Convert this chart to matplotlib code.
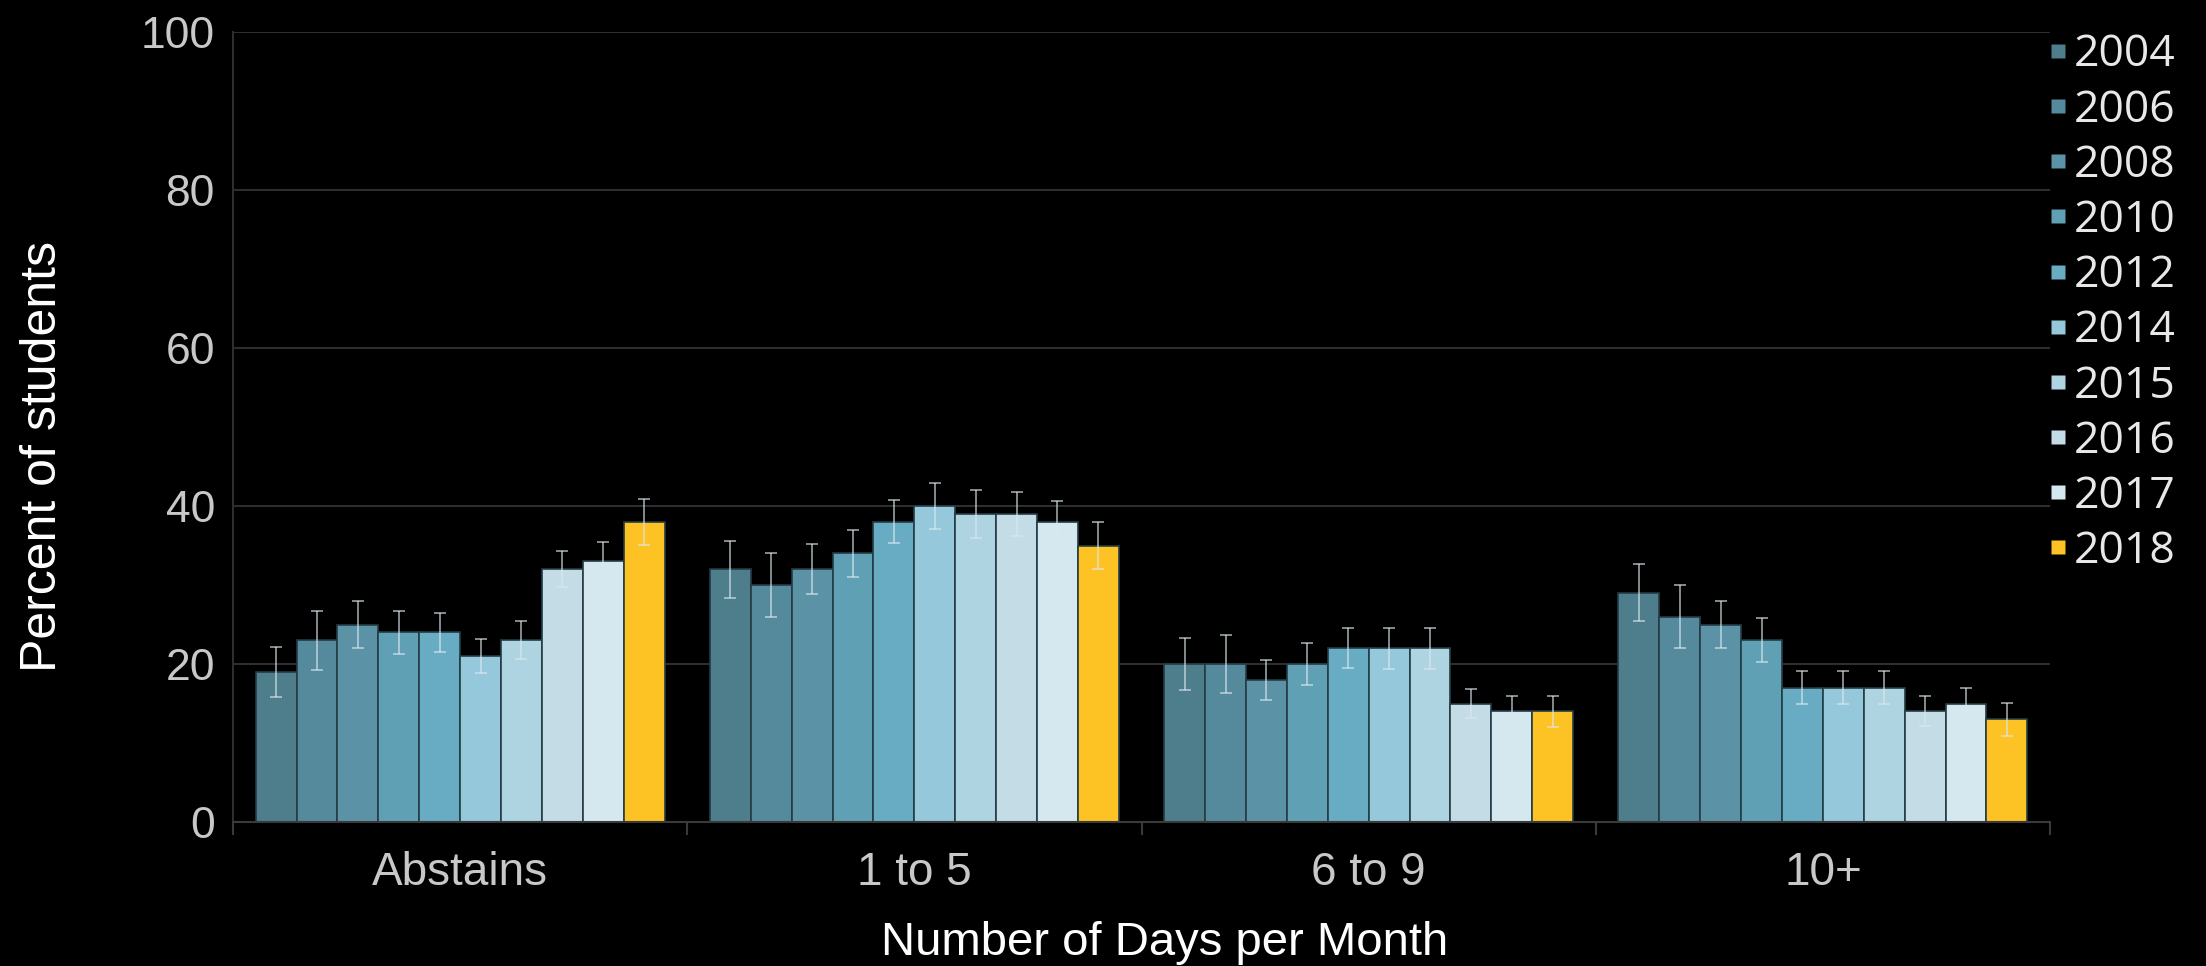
import matplotlib.pyplot as plt
from matplotlib.lines import Line2D
import numpy as np

plt.rcParams.update({
    "font.family": "Liberation Sans",
    "axes.linewidth": 1.5,
})

categories = ["Abstains", "1 to 5", "6 to 9", "10+"]
years = ["2004", "2006", "2008", "2010", "2012", "2014", "2015", "2016", "2017", "2018"]

# percent of students, one list per year (Abstains, 1-5, 6-9, 10+)
pct = {
    "2004": [19, 32, 20, 29],
    "2006": [23, 30, 20, 26],
    "2008": [25, 32, 18, 25],
    "2010": [24, 34, 20, 23],
    "2012": [24, 38, 22, 17],
    "2014": [21, 40, 22, 17],
    "2015": [23, 39, 22, 17],
    "2016": [32, 39, 15, 14],
    "2017": [33, 38, 14, 15],
    "2018": [38, 35, 14, 13],
}
err = {
    "2004": [3.2, 3.6, 3.3, 3.6],
    "2006": [3.7, 4.0, 3.7, 4.0],
    "2008": [3.0, 3.2, 2.5, 3.0],
    "2010": [2.7, 3.0, 2.7, 2.8],
    "2012": [2.5, 2.7, 2.5, 2.1],
    "2014": [2.2, 2.9, 2.6, 2.1],
    "2015": [2.4, 3.0, 2.6, 2.1],
    "2016": [2.3, 2.8, 1.8, 1.9],
    "2017": [2.5, 2.6, 2.0, 2.0],
    "2018": [2.9, 3.0, 2.0, 2.1],
}
colors = ["#4e7d8c", "#548a9c", "#5b92a5", "#5fa0b5", "#68acc4",
          "#94c8da", "#aed4e2", "#c3dce6", "#d5e8f0", "#fdc325"]

grid_col = "#2e2e2e"
tick_col = "#c8c8c8"

fig = plt.figure(figsize=(22.06, 9.66), dpi=100, facecolor="black")
ax = fig.add_axes([233 / 2206, 1 - 822 / 966, 1817 / 2206, 790 / 966])
ax.set_facecolor("black")

x = np.arange(len(categories))
w = 0.09
for j, yr in enumerate(years):
    pos = x + (j - 4.5) * w
    ax.bar(pos, pct[yr], width=w, color=colors[j], edgecolor="#243c45",
           linewidth=1.2, zorder=2)
    ax.errorbar(pos, pct[yr], yerr=err[yr], fmt="none", ecolor="#dbe8ee",
                elinewidth=1.2, capsize=4, capthick=1.2, alpha=0.7, zorder=3)

ax.set_xlim(-0.5, 3.5)
ax.set_ylim(0, 100)
ax.set_yticks(range(0, 101, 20))
ax.yaxis.grid(True, color=grid_col, linewidth=1.5, zorder=0)
ax.set_axisbelow(True)

for s in ["top", "right"]:
    ax.spines[s].set_visible(False)
ax.spines["left"].set_color(grid_col)
ax.spines["bottom"].set_color("#3a3a3a")

ax.set_xticks(x)
ax.set_xticklabels(categories)
ax.set_xticks(np.arange(-0.5, 4.0, 1.0), minor=True)
ax.tick_params(axis="x", which="major", length=0, pad=21, labelsize=33, labelcolor=tick_col)
ax.tick_params(axis="x", which="minor", length=9, width=1.5, color="#3a3a3a")
ax.tick_params(axis="y", length=0, pad=13, labelsize=32, labelcolor=tick_col)

ax.set_xlabel("Number of Days per Month", fontsize=34, color="white")
ax.set_ylabel("Percent of students", fontsize=36, color="white")
ax.xaxis.set_label_coords(0.513, -0.125)
ax.yaxis.set_label_coords(-0.092, 0.463)

# small square markers for the legend keys
handles = [Line2D([], [], marker="s", linestyle="none", markersize=10,
                  markerfacecolor=c, markeredgecolor="none") for c in colors]
leg = fig.legend(handles, years, loc="upper left", bbox_to_anchor=(2047 / 2206, 1 - 33 / 966),
                 frameon=False, handlelength=0.5, handletextpad=0.1,
                 labelspacing=0.24, borderpad=0, borderaxespad=0,
                 prop={"family": "Open Sans", "size": 32})
for t in leg.get_texts():
    t.set_color("#e8e8e8")

fig.savefig("out.png", dpi=100, facecolor="black")
